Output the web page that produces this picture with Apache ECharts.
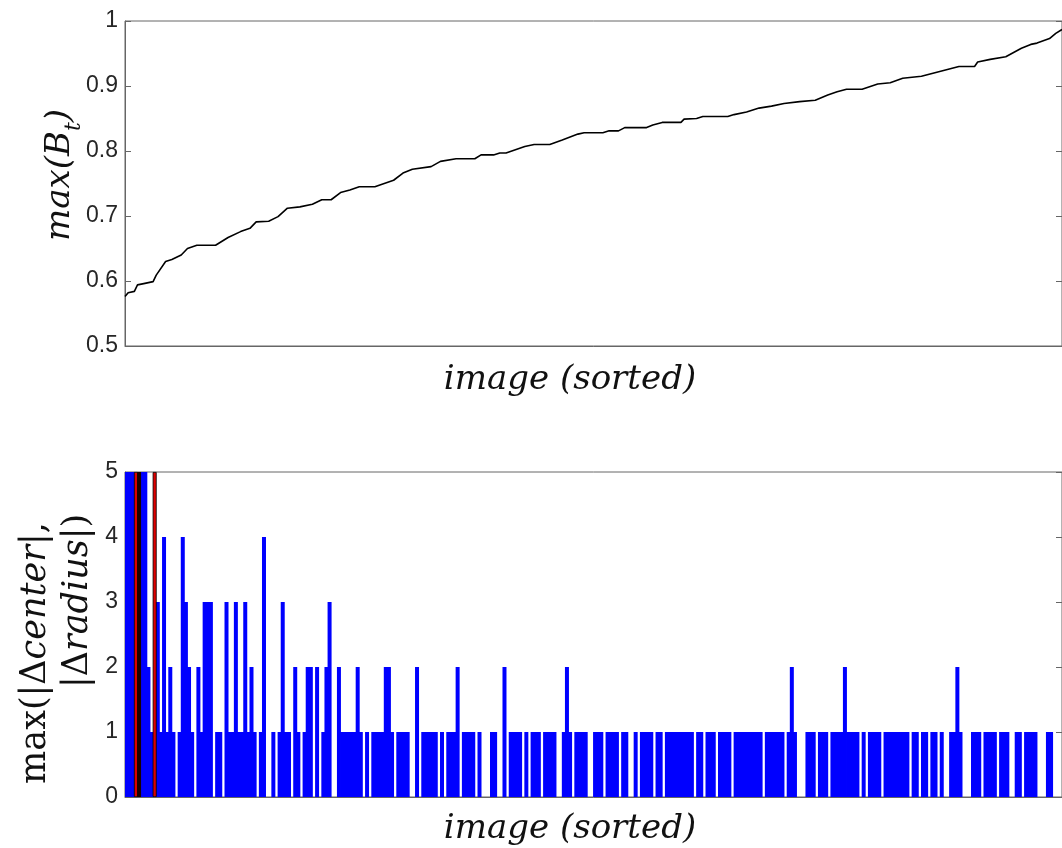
<!DOCTYPE html>
<html>
<head>
<meta charset="utf-8">
<script src="https://cdn.jsdelivr.net/npm/echarts@6/dist/echarts.min.js"></script>
<style>
html,body{margin:0;padding:0;background:#fff;}
#chart{width:1062px;height:848px;}
</style>
</head>
<body>
<div id="chart"></div>
<script>
// ---- top chart: max(B_t) over sorted images (image index, value) ----
var topX = [0,1,3,4,6,9,10,13,15,18,20,23,29,33,37,40,42,46,49,52,56,60,63,66,69,72,75,80,83,86,89,92,98,101,106,112,114,118,120,122,128,131,136,140,145,147,153,155,158,160,167,169,172,178,179,183,185,187,193,195,199,203,207,211,216,221,225,228,231,236,241,245,249,255,259,263,267,272,273,277,282,287,290,292,296,298,300];
var topY = [0.576,0.582,0.584,0.594,0.596,0.599,0.609,0.630,0.633,0.640,0.650,0.655,0.655,0.667,0.676,0.681,0.691,0.692,0.699,0.712,0.714,0.718,0.725,0.725,0.736,0.740,0.745,0.745,0.750,0.755,0.766,0.772,0.776,0.784,0.788,0.788,0.794,0.794,0.797,0.797,0.807,0.810,0.810,0.817,0.826,0.828,0.828,0.831,0.831,0.836,0.836,0.840,0.844,0.844,0.849,0.850,0.853,0.853,0.853,0.856,0.860,0.866,0.869,0.873,0.876,0.878,0.886,0.891,0.895,0.895,0.903,0.905,0.912,0.915,0.920,0.925,0.930,0.930,0.937,0.941,0.945,0.958,0.964,0.966,0.973,0.981,0.987];
var topTicks = ['0.5','0.6','0.7','0.8','0.9','1'];

// ---- bottom chart: max(|Δcenter|,|Δradius|) per sorted image (null = failure) ----
var deltaValues = [
5,5,5,null,null,5,5,2,1,null,3,1,4,1,2,1,0,1,4,3,
2,1,0,2,1,3,3,3,0,1,1,0,3,1,1,3,1,1,3,1,
2,1,0,1,4,0,0,1,0,1,3,1,1,0,2,1,0,1,2,2,
0,2,0,1,2,3,0,0,2,1,1,1,1,1,2,1,0,1,0,1,
1,1,1,2,2,1,0,1,1,1,1,0,0,2,0,1,1,1,1,1,
0,1,0,1,1,1,2,0,1,1,1,1,0,1,0,0,0,1,1,0,
0,2,0,1,1,1,1,0,1,0,1,1,1,0,1,1,1,1,0,0,
1,2,1,0,1,1,1,1,0,0,1,1,1,0,1,1,1,1,0,1,
1,0,0,1,0,1,1,1,1,0,1,1,0,1,1,1,1,1,1,1,
1,1,0,1,1,0,1,1,1,0,1,1,1,1,0,1,1,1,1,1,
1,1,1,1,0,1,1,1,1,1,1,0,1,2,1,0,0,0,1,1,
1,0,1,1,1,0,1,1,1,1,2,1,1,1,1,0,1,0,1,1,
1,1,0,1,1,1,1,1,1,1,1,0,1,1,0,1,1,0,1,1,
0,1,0,0,1,1,2,1,0,0,0,1,1,1,0,1,1,1,1,0,
1,1,1,0,0,1,1,0,1,1,1,1,0,0,0,1,1,0,0,0
];
var failRed = [3, 9];
var failBlack = [4];
var failValue = 5;
var bottomTicks = ['0','1','2','3','4','5'];

var categories = deltaValues.map(function(v, i){ return String(i); });
var blueData = deltaValues.map(function(v){ return (v === null || v === 0) ? '-' : v; });
var redData = deltaValues.map(function(v, i){ return failRed.indexOf(i) >= 0 ? failValue : '-'; });
var blackData = deltaValues.map(function(v, i){ return failBlack.indexOf(i) >= 0 ? failValue : '-'; });
var lineData = topX.map(function(x, i){ return [x, topY[i]]; });

var axisCol = '#666';
var labelStyle = {fontFamily:'Liberation Sans, Arial, sans-serif', fontSize:23, color:'#262626'};
var serif = 'DejaVu Serif, serif';

function leftAxis(grid, min, max, ticks){
  return {type:'value', gridIndex:grid, min:min, max:max, interval:(max-min)/(ticks.length-1), position:'left',
    axisLine:{show:true, lineStyle:{color:axisCol, width:1}},
    axisTick:{show:true, inside:true, length:6, lineStyle:{color:axisCol}},
    axisLabel:Object.assign({margin:7, formatter:function(v){
      var k = Math.round((v-min)/((max-min)/(ticks.length-1)));
      return ticks[k] !== undefined ? ticks[k] : '';
    }}, labelStyle),
    splitLine:{show:false}};
}
function rightAxis(grid, min, max, n){
  return {type:'value', gridIndex:grid, min:min, max:max, interval:(max-min)/(n-1), position:'right',
    axisLine:{show:true, lineStyle:{color:axisCol, width:1}},
    axisTick:{show:true, inside:true, length:6, lineStyle:{color:axisCol}},
    axisLabel:{show:false}, splitLine:{show:false}};
}

var chart = echarts.init(document.getElementById('chart'), null, {renderer:'canvas'});
chart.setOption({
  animation:false,
  backgroundColor:'#fff',
  grid:[
    {left:125, top:21, width:937, height:325, show:true, borderColor:axisCol, borderWidth:1, backgroundColor:'transparent'},
    {left:125, top:472, width:937, height:325, show:true, borderColor:axisCol, borderWidth:1, backgroundColor:'transparent'}
  ],
  xAxis:[
    {type:'value', gridIndex:0, min:0, max:300, axisLine:{show:true, lineStyle:{color:axisCol}}, axisTick:{show:false}, axisLabel:{show:false}, splitLine:{show:false}},
    {type:'category', gridIndex:1, data:categories, boundaryGap:true, axisLine:{show:true, lineStyle:{color:axisCol}}, axisTick:{show:false}, axisLabel:{show:false}, splitLine:{show:false}}
  ],
  yAxis:[
    leftAxis(0, 0.5, 1, topTicks),
    rightAxis(0, 0.5, 1, topTicks.length),
    leftAxis(1, 0, 5, bottomTicks),
    rightAxis(1, 0, 5, bottomTicks.length)
  ],
  series:[
    {type:'line', xAxisIndex:0, yAxisIndex:0, data:lineData, showSymbol:false, symbol:'none',
      lineStyle:{color:'#000', width:1.6}, z:3},
    {type:'bar', xAxisIndex:1, yAxisIndex:2, data:blueData, barWidth:4, barGap:'-100%',
      itemStyle:{color:'#0000ff'}, z:2},
    {type:'bar', xAxisIndex:1, yAxisIndex:2, data:redData, barWidth:4, barGap:'-100%',
      itemStyle:{color:'#dd0000', borderColor:'#000', borderWidth:0.8}, z:3},
    {type:'bar', xAxisIndex:1, yAxisIndex:2, data:blackData, barWidth:4, barGap:'-100%',
      itemStyle:{color:'#1a0000'}, z:3}
  ],
  graphic:[
    {type:'text', x:60, y:175, rotation:Math.PI/2,
      style:{text:'{i|max(B}{s|t}{i|)}', textAlign:'center', textVerticalAlign:'middle',
        rich:{i:{fontFamily:serif, fontStyle:'italic', fontSize:34, fill:'#111', lineHeight:50},
              s:{fontFamily:serif, fontStyle:'italic', fontSize:22, fill:'#111', lineHeight:22, verticalAlign:'bottom'}}}},
    {type:'text', x:570, y:380,
      style:{text:'image (sorted)', textAlign:'center', textVerticalAlign:'middle',
        font:'italic 34px DejaVu Serif', fill:'#111'}},
    {type:'text', x:36, y:653, rotation:Math.PI/2,
      style:{text:'{u|max(|Δ}{i|center}{u||,}', textAlign:'center', textVerticalAlign:'middle',
        rich:{u:{fontFamily:serif, fontSize:35, fill:'#111'}, i:{fontFamily:serif, fontStyle:'italic', fontSize:35, fill:'#111'}}}},
    {type:'text', x:78, y:601, rotation:Math.PI/2,
      style:{text:'{u||Δ}{i|radius}{u||)}', textAlign:'center', textVerticalAlign:'middle',
        rich:{u:{fontFamily:serif, fontSize:35, fill:'#111'}, i:{fontFamily:serif, fontStyle:'italic', fontSize:35, fill:'#111'}}}},
    {type:'text', x:570, y:829,
      style:{text:'image (sorted)', textAlign:'center', textVerticalAlign:'middle',
        font:'italic 34px DejaVu Serif', fill:'#111'}}
  ]
});
</script>
</body>
</html>
